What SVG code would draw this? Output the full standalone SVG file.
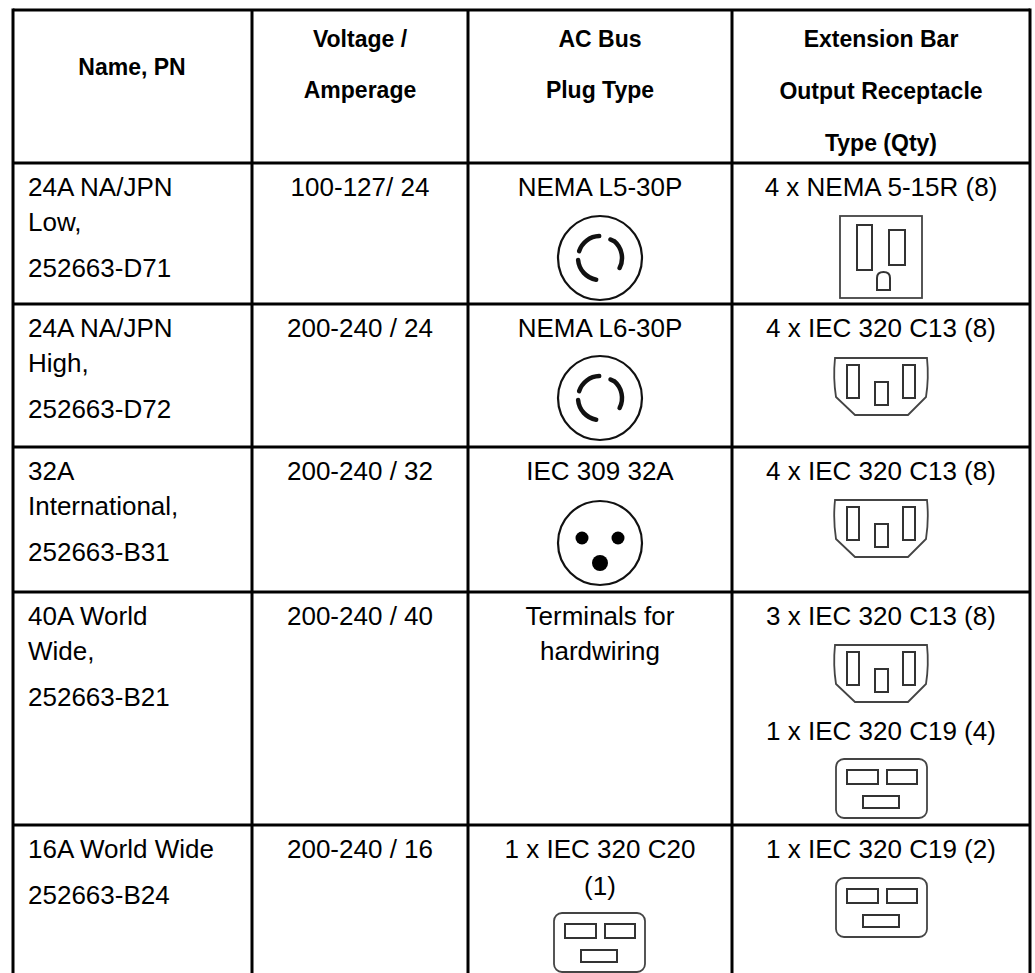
<svg xmlns="http://www.w3.org/2000/svg" width="1035" height="973" viewBox="0 0 1035 973">
<style>
.grid line{stroke:#000;stroke-width:3}
.h{font-family:"Liberation Sans",Arial,sans-serif;font-weight:bold;font-size:23px;fill:#000;text-anchor:middle}
.t{font-family:"Liberation Sans",Arial,sans-serif;font-size:26px;fill:#000}
.c{text-anchor:middle}
.ring{fill:#fff;stroke:#111;stroke-width:2.2}
.arc{fill:none;stroke:#111;stroke-width:4.5;stroke-linecap:round}
.ol{fill:#fff;stroke:#444;stroke-width:1.8}
.slot{fill:#fff;stroke:#333;stroke-width:2}
</style>
<defs>
<g id="l530">
<circle class="ring" cx="0" cy="0" r="42"/>
<path class="arc" d="M-20.9,-6.8 A22,22 0 0 1 -0.8,-22"/>
<path class="arc" d="M-21.9,1.9 A22,22 0 0 0 -3.8,21.7"/>
<path class="arc" d="M10.5,-18.5 L14.1,-16.9 A22,22 0 0 1 19.6,10"/>
</g>
<g id="c13">
<path class="ol" d="M-46,0 L46,0 Q48,20 45,39 L27,57 L-26,57 L-45,39 Q-48,20 -46,0 Z"/>
<rect class="slot" x="-34" y="7" width="12" height="33"/>
<rect class="slot" x="22" y="7" width="12" height="33"/>
<rect class="slot" x="-6" y="24" width="13" height="23"/>
</g>
<g id="c19">
<rect class="ol" x="-45" y="0" width="91" height="59" rx="8"/>
<rect class="slot" x="-34" y="11" width="31" height="14"/>
<rect class="slot" x="6" y="11" width="30" height="14"/>
<rect class="slot" x="-18" y="37" width="36" height="12"/>
</g>
</defs>

<g id="connectors" class="grid">
<line x1="13" y1="10" x2="1030" y2="10"/>
<line x1="13" y1="163" x2="1030" y2="163"/>
<line x1="13" y1="304" x2="1030" y2="304"/>
<line x1="13" y1="447" x2="1030" y2="447"/>
<line x1="13" y1="592" x2="1030" y2="592"/>
<line x1="13" y1="825" x2="1030" y2="825"/>
<line x1="13" y1="8.5" x2="13" y2="973"/>
<line x1="252" y1="10" x2="252" y2="973"/>
<line x1="468" y1="10" x2="468" y2="973"/>
<line x1="732" y1="10" x2="732" y2="973"/>
<line x1="1030" y1="8.5" x2="1030" y2="973"/>
</g>

<g id="header">
<text class="h" x="132" y="75">Name, PN</text>
<text class="h" x="360" y="47">Voltage /</text>
<text class="h" x="360" y="98">Amperage</text>
<text class="h" x="600" y="47">AC Bus</text>
<text class="h" x="600" y="98">Plug Type</text>
<text class="h" x="881" y="47">Extension Bar</text>
<text class="h" x="881" y="99">Output Receptacle</text>
<text class="h" x="881" y="151">Type (Qty)</text>
</g>

<g id="row1">
<text class="t" x="28" y="196">24A NA/JPN</text>
<text class="t" x="28" y="231">Low,</text>
<text class="t" x="28" y="277">252663-D71</text>
<text class="t c" x="360" y="196">100-127/ 24</text>
<text class="t c" x="600" y="196">NEMA L5-30P</text>
<use href="#l530" x="600" y="258"/>
<text class="t c" x="881" y="196">4 x NEMA 5-15R (8)</text>
<g id="nema515r">
<rect class="ol" x="840" y="216" width="82" height="82"/>
<rect class="slot" x="857" y="225" width="15" height="45"/>
<rect class="slot" x="889" y="230" width="16" height="35"/>
<path class="slot" d="M877,290 L877,278 Q877,272 883.5,272 Q890,272 890,278 L890,290 Z"/>
</g>
</g>

<g id="row2">
<text class="t" x="28" y="337">24A NA/JPN</text>
<text class="t" x="28" y="372">High,</text>
<text class="t" x="28" y="418">252663-D72</text>
<text class="t c" x="360" y="337">200-240 / 24</text>
<text class="t c" x="600" y="337">NEMA L6-30P</text>
<use href="#l530" x="600" y="398"/>
<text class="t c" x="881" y="337">4 x IEC 320 C13 (8)</text>
<use href="#c13" x="881" y="358"/>
</g>

<g id="row3">
<text class="t" x="28" y="480">32A</text>
<text class="t" x="28" y="515">International,</text>
<text class="t" x="28" y="561">252663-B31</text>
<text class="t c" x="360" y="480">200-240 / 32</text>
<text class="t c" x="600" y="480">IEC 309 32A</text>
<g id="iec309">
<circle class="ring" cx="600" cy="543" r="42"/>
<circle cx="582" cy="538" r="6.5" fill="#000"/>
<circle cx="618" cy="538" r="6.5" fill="#000"/>
<circle cx="600" cy="563" r="8" fill="#000"/>
</g>
<text class="t c" x="881" y="480">4 x IEC 320 C13 (8)</text>
<use href="#c13" x="881" y="500"/>
</g>

<g id="row4">
<text class="t" x="28" y="625">40A World</text>
<text class="t" x="28" y="660">Wide,</text>
<text class="t" x="28" y="706">252663-B21</text>
<text class="t c" x="360" y="625">200-240 / 40</text>
<text class="t c" x="600" y="625">Terminals for</text>
<text class="t c" x="600" y="660">hardwiring</text>
<text class="t c" x="881" y="625">3 x IEC 320 C13 (8)</text>
<use href="#c13" x="881" y="645"/>
<text class="t c" x="881" y="740">1 x IEC 320 C19 (4)</text>
<use href="#c19" x="881" y="759"/>
</g>

<g id="row5">
<text class="t" x="28" y="858">16A World Wide</text>
<text class="t" x="28" y="904">252663-B24</text>
<text class="t c" x="360" y="858">200-240 / 16</text>
<text class="t c" x="600" y="858">1 x IEC 320 C20</text>
<text class="t c" x="600" y="895">(1)</text>
<use href="#c19" x="599" y="913"/>
<text class="t c" x="881" y="858">1 x IEC 320 C19 (2)</text>
<use href="#c19" x="881" y="878"/>
</g>
</svg>
